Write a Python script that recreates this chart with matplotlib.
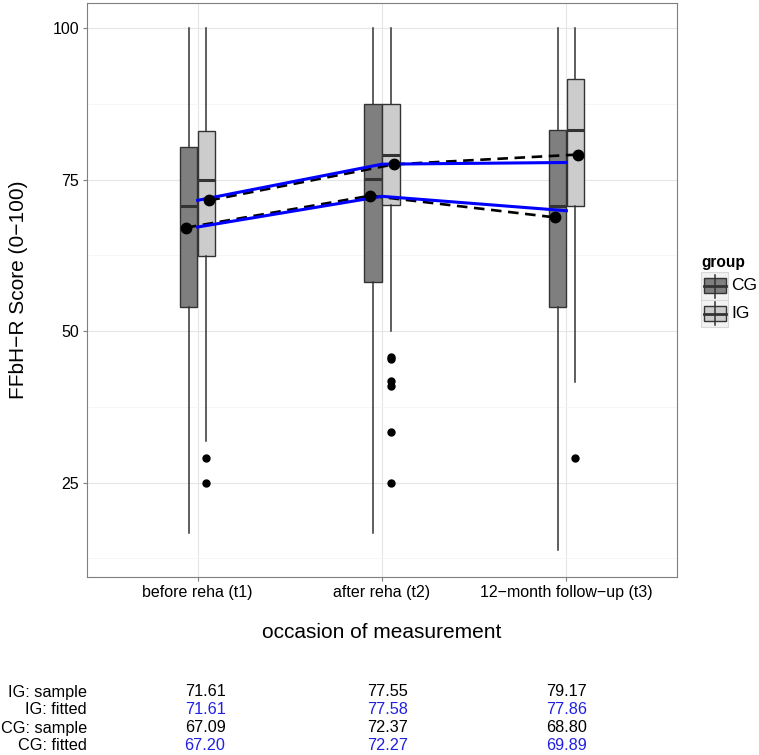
import matplotlib
matplotlib.use('Agg')
import matplotlib.pyplot as plt
from matplotlib.patches import Rectangle
from matplotlib.lines import Line2D

plt.rcParams['font.family'] = ['Liberation Sans', 'DejaVu Sans']

# occasions of measurement
occasions = ['before reha (t1)', 'after reha (t2)', '12\u2212month follow\u2212up (t3)']
x_pos = [1, 2, 3]

# control group box stats
cg_q1 = [54.0, 58.2, 54.0]
cg_med = [70.7, 75.1, 70.7]
cg_q3 = [80.4, 87.5, 83.2]
cg_lo = [16.7, 16.7, 13.8]
cg_hi = [100.0, 100.0, 100.0]
cg_fliers = [[], [], []]

# intervention group box stats
ig_q1 = [62.4, 70.8, 70.7]
ig_med = [74.9, 79.1, 83.2]
ig_q3 = [83.1, 87.5, 91.6]
ig_lo = [31.9, 50.0, 41.6]
ig_hi = [100.0, 100.0, 100.0]
ig_fliers = [[29.1, 25.0], [45.8, 45.4, 41.7, 40.9, 33.4, 25.0], [29.1]]

# sample means and fitted values
ig_sample = [71.61, 77.55, 79.17]
ig_fitted = [71.61, 77.58, 77.86]
cg_sample = [67.09, 72.37, 68.80]
cg_fitted = [67.20, 72.27, 69.89]

W, H = 759, 755
fig = plt.figure(figsize=(W / 100, H / 100), dpi=100)
ax = fig.add_axes([87 / W, 1 - 577 / H, 590 / W, 574 / H])


def fx(x):
    return x / W


def fy(y):
    return 1 - y / H


def box_stats(q1, med, q3, lo, hi, fliers):
    return [dict(q1=a, med=b, q3=c, whislo=d, whishi=e, fliers=f)
            for a, b, c, d, e, f in zip(q1, med, q3, lo, hi, fliers)]


box_off = 0.048
box_w = 0.094
dark = '#333333'
for stats, off, fill in [(box_stats(cg_q1, cg_med, cg_q3, cg_lo, cg_hi, cg_fliers), -box_off, '#7F7F7F'),
                         (box_stats(ig_q1, ig_med, ig_q3, ig_lo, ig_hi, ig_fliers), box_off, '#CCCCCC')]:
    ax.bxp(stats, positions=[p + off for p in x_pos], widths=box_w, patch_artist=True,
           showcaps=False, manage_ticks=False,
           boxprops=dict(facecolor=fill, edgecolor=dark, linewidth=1.0),
           medianprops=dict(color=dark, linewidth=2.2),
           whiskerprops=dict(color=dark, linewidth=1.1),
           flierprops=dict(marker='o', markerfacecolor='black', markeredgecolor='black',
                           markersize=5, linestyle='none'))

pt_off = 0.064
cg_x = [p - pt_off for p in x_pos]
ig_x = [p + pt_off for p in x_pos]
ax.plot(cg_x, cg_sample, color='black', lw=1.9, dashes=(4, 2.5), zorder=4)
ax.plot(ig_x, ig_sample, color='black', lw=1.9, dashes=(4, 2.5), zorder=4)
ax.plot(x_pos, cg_fitted, color='#0000FF', lw=2.2, zorder=5)
ax.plot(x_pos, ig_fitted, color='#0000FF', lw=2.2, zorder=5)
ax.plot(cg_x, cg_sample, 'o', color='black', ms=7.5, zorder=6)
ax.plot(ig_x, ig_sample, 'o', color='black', ms=7.5, zorder=6)

ax.set_xlim(0.4, 3.6)
ax.set_ylim(9.4, 104.2)
ax.set_xticks(x_pos)
ax.set_xticklabels(occasions)
ax.set_yticks([25, 50, 75, 100])
ax.set_yticks([12.5, 37.5, 62.5, 87.5], minor=True)
ax.grid(True, which='major', color='#E5E5E5', lw=0.8)
ax.grid(True, which='minor', axis='y', color='#F5F5F5', lw=0.6)
ax.set_axisbelow(True)
ax.tick_params(axis='both', which='major', length=3, width=0.8, color='#7F7F7F',
               labelsize=11.5, labelcolor='black', pad=2.5)
ax.tick_params(axis='both', which='minor', length=0)
for sp in ax.spines.values():
    sp.set_color('#7F7F7F')
    sp.set_linewidth(0.8)

# axis titles
fig.text(fx(19), fy(290), 'FFbH\u2212R Score (0\u2212100)', fontsize=15, rotation=90,
         ha='center', va='center')
fig.text(fx(382), fy(632), 'occasion of measurement', fontsize=15, ha='center', va='center')

# legend drawn by hand
fig.text(fx(701), fy(262), 'group', fontsize=11.2, fontweight='bold', va='center', ha='left')
for i, (lab, fill) in enumerate([('CG', '#7F7F7F'), ('IG', '#CCCCCC')]):
    top = 272.5 + i * 27.5
    fig.add_artist(Rectangle((fx(701), fy(top + 27)), 27 / W, 27 / H, transform=fig.transFigure,
                             facecolor='#F2F2F2', edgecolor='#D9D9D9', lw=0.8))
    fig.add_artist(Line2D([fx(714.5), fx(714.5)], [fy(top + 2), fy(top + 25)],
                          transform=fig.transFigure, color=dark, lw=1.1))
    fig.add_artist(Rectangle((fx(703.5), fy(top + 21)), 22 / W, 15 / H, transform=fig.transFigure,
                             facecolor=fill, edgecolor=dark, lw=1.0))
    fig.add_artist(Line2D([fx(703.5), fx(725.5)], [fy(top + 13.5), fy(top + 13.5)],
                          transform=fig.transFigure, color=dark, lw=2.0))
    fig.text(fx(731), fy(top + 13.5), lab, fontsize=12.5, va='center', ha='left')

# table of sample and fitted means
rows = [('IG: sample', ig_sample, 'black'), ('IG: fitted', ig_fitted, '#2020E0'),
        ('CG: sample', cg_sample, 'black'), ('CG: fitted', cg_fitted, '#2020E0')]
col_x = [1.04, 2.03, 3.0]
for r, (lab, vals, col) in enumerate(rows):
    y = fy(692 + r * 18)
    fig.text(fx(87), y, lab, fontsize=11.7, ha='right', va='center')
    for cx, v in zip(col_x, vals):
        ax.annotate(f'{v:.2f}', xy=(cx, y), xycoords=('data', 'figure fraction'),
                    fontsize=11.7, color=col, ha='center', va='center', annotation_clip=False)

fig.savefig('out.png', dpi=100)
